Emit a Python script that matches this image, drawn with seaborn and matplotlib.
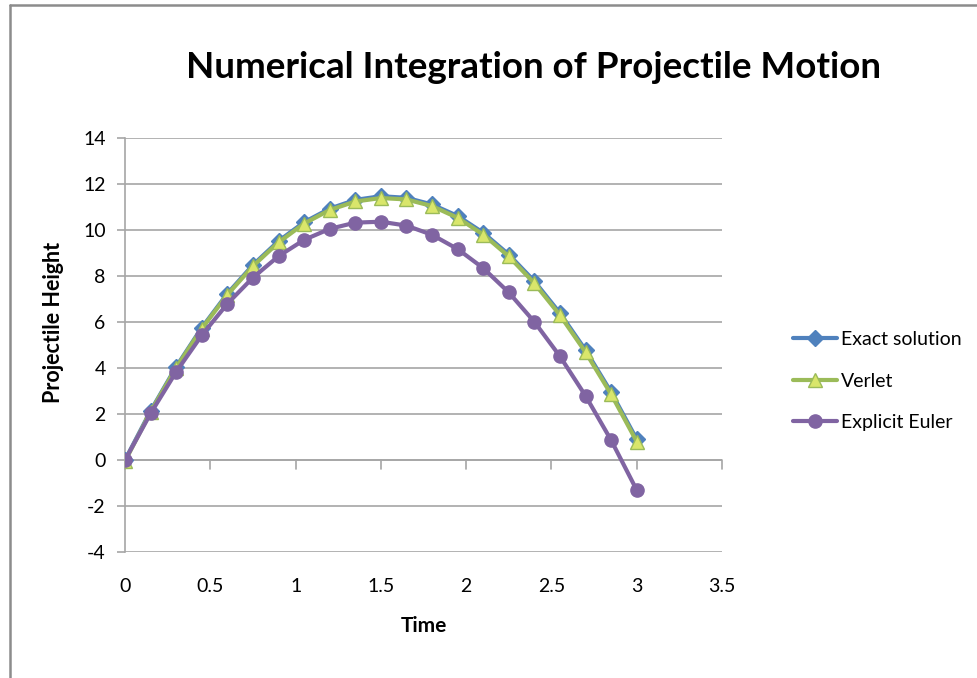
import matplotlib
matplotlib.use("Agg")
import matplotlib.pyplot as plt
from matplotlib.lines import Line2D
import seaborn as sns
import pandas as pd

# Sample times (s)
time = [0.0, 0.15, 0.30, 0.45, 0.60, 0.75, 0.90, 1.05, 1.20, 1.35, 1.50,
        1.65, 1.80, 1.95, 2.10, 2.25, 2.40, 2.55, 2.70, 2.85, 3.00]

# Heights (m) for each method
exact = [0.00, 2.14, 4.06, 5.76, 7.24, 8.49, 9.53, 10.35, 10.94, 11.32, 11.48,
         11.41, 11.12, 10.62, 9.89, 8.94, 7.78, 6.39, 4.78, 2.95, 0.90]
verlet = [-0.05, 2.10, 4.02, 5.72, 7.19, 8.44, 9.47, 10.29, 10.88, 11.25, 11.40,
          11.34, 11.05, 10.54, 9.81, 8.86, 7.69, 6.30, 4.69, 2.86, 0.80]
euler = [0.00, 2.03, 3.84, 5.43, 6.80, 7.94, 8.87, 9.58, 10.06, 10.33, 10.37,
         10.20, 9.80, 9.18, 8.35, 7.29, 6.01, 4.51, 2.79, 0.86, -1.31]

series_names = ["Exact solution", "Verlet", "Explicit Euler"]
x_ticks = [0, 0.5, 1, 1.5, 2, 2.5, 3, 3.5]
y_ticks = [-4, -2, 0, 2, 4, 6, 8, 10, 12, 14]

df = pd.DataFrame({
    "Time": time * 3,
    "Height": exact + verlet + euler,
    "Method": [series_names[0]] * len(time) + [series_names[1]] * len(time)
              + [series_names[2]] * len(time),
})

sns.set_theme(style="white")
plt.rcParams["font.family"] = ["Lato", "DejaVu Sans"]

fig = plt.figure(figsize=(9.77, 6.78), dpi=100)
ax = fig.add_axes([0.128, 0.186, 0.611, 0.610])

styles = {
    "Exact solution": dict(color="#4F81BD", marker="D", ms=8, mfc="#4F81BD", mec="#4F81BD"),
    "Verlet": dict(color="#9BBB59", marker="^", ms=10, mfc="#D9E66B", mec="#9BBB59"),
    "Explicit Euler": dict(color="#8064A2", marker="o", ms=9.5, mfc="#8064A2", mec="#8064A2"),
}

for name in series_names:
    st = styles[name]
    sns.lineplot(data=df[df["Method"] == name], x="Time", y="Height", ax=ax,
                 color=st["color"], linewidth=3.0, marker=st["marker"],
                 markersize=st["ms"], markerfacecolor=st["mfc"],
                 markeredgecolor=st["mec"], markeredgewidth=1.0,
                 label=name, zorder=3)

ax.set_xlim(0, 3.5)
ax.set_ylim(-4, 14)
ax.set_xticks(x_ticks)
ax.set_xticklabels([f"{t:g}" for t in x_ticks])
ax.set_yticks(y_ticks)
ax.set_yticklabels([f"{t:g}" for t in y_ticks])

# Gridlines and axis lines
grid_col = "#A6A6A6"
ax.grid(axis="y", color=grid_col, linewidth=1.2)
ax.grid(axis="x", visible=False)
for side in ["top", "right", "bottom"]:
    ax.spines[side].set_visible(False)
ax.spines["left"].set_color(grid_col)
ax.spines["left"].set_linewidth(1.2)
ax.axhline(0, color=grid_col, linewidth=1.2, zorder=1)
ax.set_axisbelow(True)

# x-axis tick marks sit on the y = 0 line
ax.tick_params(axis="x", length=0, labelsize=14, pad=19, colors="black")
ax.tick_params(axis="y", left=True, length=6, width=1.2, color=grid_col,
               labelsize=14, pad=8)
for lbl in ax.get_yticklabels():
    lbl.set_color("black")
for xt in x_ticks:
    ax.plot([xt, xt], [0, -0.38], color=grid_col, linewidth=1.2, zorder=1,
            clip_on=False)

ax.set_xlabel("Time", fontsize=15, fontweight="bold", labelpad=15, color="black")
ax.set_ylabel("Projectile Height", fontsize=15.5, fontweight="bold", labelpad=13,
              color="black")
ax.yaxis.set_label_coords(-0.102, 0.555)
fig.text(0.546, 0.900, "Numerical Integration of Projectile Motion",
         ha="center", va="center", fontsize=26.5, fontweight="bold",
         color="black")

leg = ax.legend(loc="center left", bbox_to_anchor=(1.089, 0.413), frameon=False,
                fontsize=14, handlelength=2.3, handletextpad=0.2,
                labelspacing=1.25)
for t in leg.get_texts():
    t.set_color("black")

# Chart frame
frame_col = "#8C8C8C"
fig.add_artist(Line2D([10 / 977, 10 / 977], [0, 1 - 5 / 678],
                      transform=fig.transFigure, color=frame_col, linewidth=1.8))
fig.add_artist(Line2D([10 / 977, 1], [1 - 5 / 678, 1 - 5 / 678],
                      transform=fig.transFigure, color=frame_col, linewidth=1.8))

fig.savefig("out.png", dpi=100)
